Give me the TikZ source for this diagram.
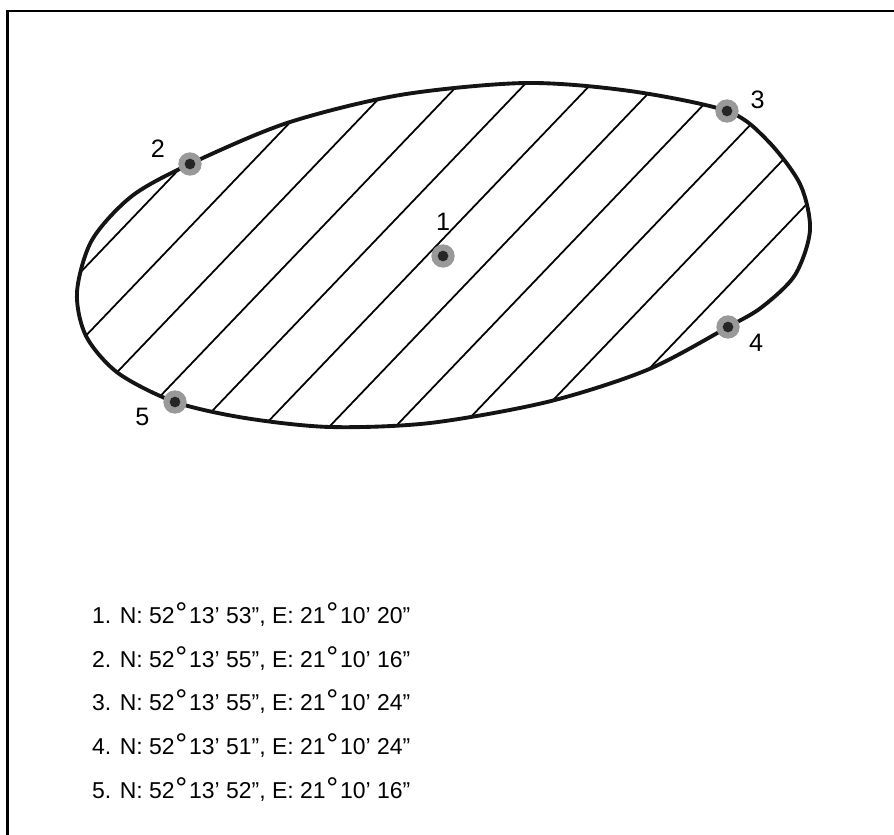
\documentclass[tikz,border=0pt]{standalone}
\usepackage{fontspec}
\setmainfont{Liberation Sans}
\usepackage{graphicx}
\definecolor{cring}{HTML}{999999}
\definecolor{ccore}{HTML}{262626}
\newcommand\dg{\kern0.03em\raisebox{-0.04em}{\scalebox{1.3}{°}}\kern0.08em}
\tikzset{
  every picture/.style={x=0.03cm, y=-0.03cm},
  frame/.style={draw=black, line width=1.8pt},
  outline/.style={draw=black!92, line width=3.3pt, line join=round},
  hatch/.style={draw=black, line width=1.5pt},
  site/.style={circle, fill=cring, minimum size=0.7cm, inner sep=0pt,
    path picture={\fill[ccore] (path picture bounding box.center) circle (0.16cm);}},
  num/.style={font=\fontsize{21.5pt}{24pt}\selectfont},
  coord/.style={anchor=base west, font=\fontsize{19.6pt}{24pt}\selectfont},
}

\begin{document}
\begin{tikzpicture}
  \useasboundingbox (0,0) rectangle (894,834);
  \draw[frame] (7.5,11) rectangle (900,840);

  % outline of the site
  \path[save path=\lakeline] plot[smooth cycle, tension=0.5] coordinates {
    (190,164) (287,123) (400,95) (525,83) (630,91) (727,111) (767,140)
    (800,184) (810,230) (795,275) (762,307) (728,327) (647,370) (547,402)
    (430,423) (330,427) (245,418) (175,402) (118,373) (86,336) (77,292)
    (92,240) (132,196)};
  \begin{scope}
    \clip[use path=\lakeline];
    \foreach \c in {0,...,10}
      \draw[hatch] ({341+66.1*\c-47.8},50) -- ({341+66.1*\c-459.3},480);
  \end{scope}
  \draw[outline, use path=\lakeline];

  \node[site] (p1) at (443,256) {};
  \node[site] (p2) at (190,164) {};
  \node[site] (p3) at (727,111) {};
  \node[site] (p4) at (728,327) {};
  \node[site] (p5) at (175,402) {};

  \node[num] (n1) at (443,222) {1};
  \node[num] (n2) at (158,148.5) {2};
  \node[num] (n3) at (757.5,100) {3};
  \node[num] (n4) at (756,342.5) {4};
  \node[num] (n5) at (142.5,416.7) {5};

  \node[coord] (r1) at (88,623) {1. N: 52\dg 13’ 53”, E: 21\dg 10’ 20”};
  \node[coord] (r2) at (88,667) {2. N: 52\dg 13’ 55”, E: 21\dg 10’ 16”};
  \node[coord] (r3) at (88,710) {3. N: 52\dg 13’ 55”, E: 21\dg 10’ 24”};
  \node[coord] (r4) at (88,754) {4. N: 52\dg 13’ 51”, E: 21\dg 10’ 24”};
  \node[coord] (r5) at (88,798) {5. N: 52\dg 13’ 52”, E: 21\dg 10’ 16”};
\end{tikzpicture}
\end{document}
